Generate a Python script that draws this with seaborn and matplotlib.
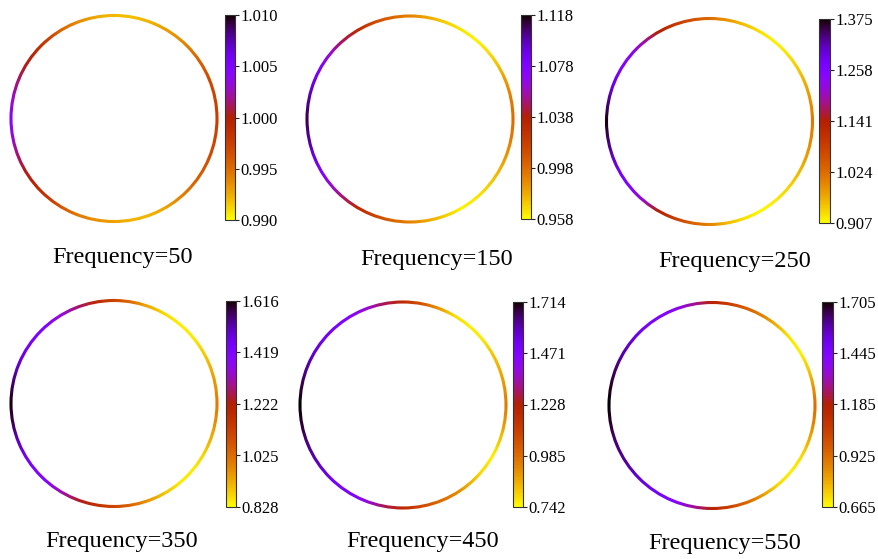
import numpy as np
import matplotlib
matplotlib.use("Agg")
import matplotlib.pyplot as plt
import seaborn as sns
from matplotlib.colors import Normalize
from matplotlib.cm import ScalarMappable
from matplotlib.patches import Circle, Annulus

# Angular positions around the ring (degrees, counter-clockwise from +x)
angles_deg = list(range(0, 360, 10))

frequencies = [50, 150, 250, 350, 450, 550]

# Field magnitude sampled around the ring for each excitation frequency
vals_f50 = [0.9976, 0.9972, 0.9968, 0.9960, 0.9948, 0.9936, 0.9930, 0.9922, 0.9918,
            0.9920, 0.9926, 0.9936, 0.9952, 0.9976, 0.9992, 1.0004, 1.0016, 1.0032,
            1.0044, 1.0032, 1.0016, 1.0004, 0.9994, 0.9980, 0.9960, 0.9944, 0.9934,
            0.9928, 0.9922, 0.9922, 0.9928, 0.9940, 0.9952, 0.9960, 0.9968, 0.9972]
vals_f150 = [0.998, 0.993, 0.985, 0.974, 0.966, 0.961, 0.963, 0.969, 0.979,
             0.990, 1.000, 1.012, 1.030, 1.046, 1.062, 1.078, 1.089, 1.102,
             1.110, 1.102, 1.092, 1.078, 1.064, 1.048, 1.030, 1.016, 1.001,
             0.990, 0.979, 0.969, 0.961, 0.963, 0.969, 0.976, 0.985, 0.993]
vals_f250 = [1.010, 0.991, 0.968, 0.944, 0.926, 0.916, 0.926, 0.949, 0.982,
             1.024, 1.057, 1.094, 1.141, 1.197, 1.244, 1.263, 1.291, 1.338,
             1.370, 1.342, 1.309, 1.272, 1.253, 1.211, 1.141, 1.085, 1.038,
             1.001, 0.954, 0.926, 0.912, 0.921, 0.935, 0.954, 0.977, 0.996]
vals_f350 = [1.001, 0.962, 0.923, 0.883, 0.852, 0.844, 0.867, 0.923, 1.017,
             1.112, 1.190, 1.277, 1.348, 1.403, 1.435, 1.458, 1.506, 1.569,
             1.608, 1.577, 1.514, 1.458, 1.427, 1.395, 1.317, 1.238, 1.167,
             1.104, 1.033, 0.954, 0.891, 0.852, 0.852, 0.875, 0.923, 0.970]
vals_f450 = [0.956, 0.907, 0.859, 0.820, 0.771, 0.761, 0.791, 0.907, 1.053,
             1.179, 1.277, 1.374, 1.452, 1.490, 1.520, 1.568, 1.617, 1.675,
             1.714, 1.685, 1.636, 1.597, 1.549, 1.500, 1.471, 1.384, 1.277,
             1.179, 1.082, 0.995, 0.936, 0.859, 0.791, 0.761, 0.820, 0.898]
vals_f550 = [0.925, 0.842, 0.748, 0.686, 0.696, 0.769, 0.873, 0.956, 1.060,
             1.164, 1.289, 1.393, 1.445, 1.476, 1.528, 1.580, 1.632, 1.684,
             1.705, 1.674, 1.622, 1.601, 1.559, 1.518, 1.476, 1.414, 1.289,
             1.164, 1.039, 0.935, 0.821, 0.717, 0.686, 0.717, 0.790, 0.873]

# Colorbar tick labels for each panel
ticks_f50 = ["0.990", "0.995", "1.000", "1.005", "1.010"]
ticks_f150 = ["0.958", "0.998", "1.038", "1.078", "1.118"]
ticks_f250 = ["0.907", "1.024", "1.141", "1.258", "1.375"]
ticks_f350 = ["0.828", "1.025", "1.222", "1.419", "1.616"]
ticks_f450 = ["0.742", "0.985", "1.228", "1.471", "1.714"]
ticks_f550 = ["0.665", "0.925", "1.185", "1.445", "1.705"]

all_vals = [vals_f50, vals_f150, vals_f250, vals_f350, vals_f450, vals_f550]
all_ticks = [ticks_f50, ticks_f150, ticks_f250, ticks_f350, ticks_f450, ticks_f550]

sns.set_theme(style="white")
plt.rcParams["font.family"] = ["Liberation Serif", "DejaVu Serif"]

cmap = sns.color_palette("gnuplot_r", as_cmap=True)

W, H = 879, 559
fig = plt.figure(figsize=(W / 100, H / 100), dpi=100)
fig.patch.set_facecolor("white")


def px_axes(x0, y0, w, h):
    """Axes from a pixel box measured from the top-left corner."""
    return fig.add_axes([x0 / W, 1 - (y0 + h) / H, w / W, h / H])


# layout: ring centre (x, y), ring radius, colorbar box, caption centre
ring_centres = [(114, 118.5), (410, 119), (709.5, 121.5),
                (114, 403.5), (403, 405), (712, 405.5)]
ring_radius = 103
cbar_boxes = [(225, 15, 10, 205), (521, 15, 10, 204), (819, 19, 11, 204),
              (226, 301, 10, 206), (513, 302, 10, 205), (822, 302, 11, 205)]
caption_pos = [(123, 258), (437, 259), (735, 262),
               (122, 541), (423, 541), (725, 543)]

r_in, r_out = 0.985, 1.015
pad = 1.05
for i, freq in enumerate(frequencies):
    vals = all_vals[i]
    tick_labels = all_ticks[i]
    tick_vals = [float(t) for t in tick_labels]
    norm = Normalize(vmin=tick_vals[0], vmax=tick_vals[-1])

    cx, cy = ring_centres[i]
    half = ring_radius * pad
    ax = px_axes(cx - half, cy - half, 2 * half, 2 * half)
    theta = np.deg2rad(angles_deg + [360])
    v = np.array(vals + [vals[0]])
    # shaded band slightly wider than the ring; its edges are trimmed below
    radii = np.array([0.96, 1.04])
    X = np.outer(radii, np.cos(theta))
    Y = np.outer(radii, np.sin(theta))
    C = np.vstack([v, v])
    ax.pcolormesh(X, Y, C, shading="gouraud", cmap=cmap, norm=norm, zorder=1)
    # smooth, antialiased inner and outer edges of the ring
    ax.add_patch(Circle((0, 0), r_in, facecolor="white", edgecolor="none",
                        zorder=2))
    ax.add_patch(Annulus((0, 0), 1.2, 1.2 - r_out, facecolor="white",
                         edgecolor="none", zorder=2))
    ax.set_xlim(-pad, pad)
    ax.set_ylim(-pad, pad)
    ax.set_aspect("equal")
    ax.axis("off")

    cax = px_axes(*cbar_boxes[i])
    sm = ScalarMappable(norm=norm, cmap=cmap)
    cb = fig.colorbar(sm, cax=cax, ticks=tick_vals)
    cb.ax.set_yticklabels(tick_labels)
    cb.ax.tick_params(labelsize=12, length=3, width=0.8, pad=1, colors="#222222",
                      labelcolor="black")
    cb.outline.set_linewidth(0.8)
    cb.outline.set_edgecolor("#333333")

    tx, ty = caption_pos[i]
    fig.text(tx / W, 1 - ty / H, f"Frequency={freq}", ha="center", va="center",
             fontsize=17.5, color="black")

fig.savefig("out.png", dpi=100, facecolor="white")
